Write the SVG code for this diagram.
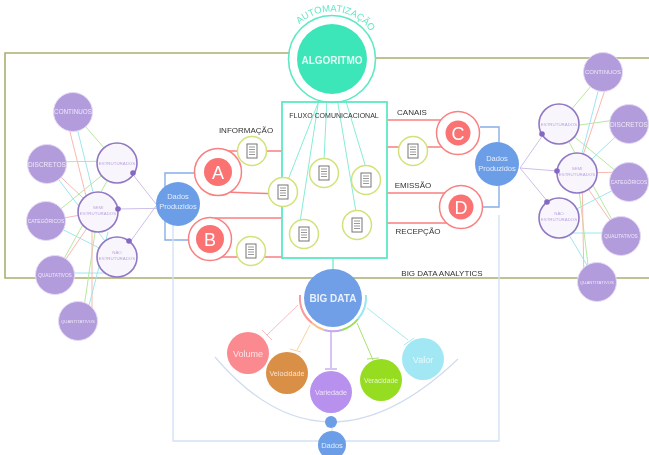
<svg xmlns="http://www.w3.org/2000/svg" xmlns:xlink="http://www.w3.org/1999/xlink" width="649" height="455" viewBox="0 0 649 455">
<style>
text{font-family:"Liberation Sans",Arial,sans-serif;text-anchor:middle}
.frame{fill:none;stroke:#a9b06e;stroke-width:1.6}
.g{stroke:#b5e8a0}.r{stroke:#f8b8b0}.c{stroke:#9ce6f0}
.lk line{stroke-width:1;fill:none}
.pl{stroke:#cdbfe8;stroke-width:1;fill:none}
.outer{fill:#b39cdc;stroke:#e4daf4;stroke-width:1}
.outer+text{fill:#efe9fa}
.inner{fill:#f8f6fc;stroke:#9078c4;stroke-width:1.6}
.inner~text{fill:#b9a5e0;font-size:4.4px}
.dot{fill:#8468c4}
.blue{fill:#6c9ee8}
.br{fill:none;stroke:#86aee8;stroke-width:1.4}
.lb{fill:none;stroke:#d4e2f6;stroke-width:1.4}
.red{fill:#fff;stroke:#f98080;stroke-width:1.5}
.redc{fill:#fa7272}
.redl{stroke:#f98080;stroke-width:1.5;fill:none}
.letter{fill:#fff;font-size:18px}
.teal{stroke:#86ecd4;stroke-width:1;fill:none}
.docr{fill:#fff;stroke:#d2e27a;stroke-width:1.5}
.lab{fill:#333;font-size:8px}
.w{fill:#fff}
.bd{stroke-width:1;fill:none}
.arc{stroke-width:2;fill:none}
</style>
<defs>
<filter id="soft" filterUnits="userSpaceOnUse" x="0" y="0" width="649" height="455"><feGaussianBlur stdDeviation="0.5"/></filter>
<g id="doc"><rect x="-5" y="-7" width="10" height="14" fill="#fff" stroke="#777" stroke-width="1"/><path d="M-3-4H3M-3-1.500H3M-3 1H3M-3 3.500H3" stroke="#999" stroke-width="1"/></g>
</defs>
<rect width="649" height="455" fill="#fff"/>
<g filter="url(#soft)">
<g id="frame">
<path class="frame" d="M296 53H5V278H649M376 58H649"/>
</g>
<g id="connectors">
<g class="lk">
<line class="g" x1="73" y1="112" x2="117" y2="163"/><line class="c" x1="73" y1="112" x2="98" y2="212"/><line class="r" x1="65" y1="112" x2="90" y2="212"/>
<line class="g" x1="47" y1="162" x2="117" y2="161"/><line class="r" x1="47" y1="164" x2="98" y2="212"/><line class="c" x1="47" y1="164" x2="117" y2="257"/>
<line class="g" x1="46" y1="221" x2="117" y2="163"/><line class="r" x1="46" y1="221" x2="98" y2="212"/><line class="c" x1="46" y1="221" x2="117" y2="257"/>
<line class="g" x1="55" y1="275" x2="117" y2="163"/><line class="r" x1="55" y1="275" x2="98" y2="212"/><line class="c" x1="55" y1="273" x2="117" y2="273"/>
<line class="g" x1="82" y1="321" x2="98" y2="212"/><line class="r" x1="92" y1="321" x2="92" y2="212"/><line class="c" x1="85" y1="321" x2="108" y2="232"/>
<line class="g" x1="603" y1="72" x2="559" y2="124"/><line class="c" x1="603" y1="72" x2="577" y2="173"/><line class="r" x1="611" y1="72" x2="577" y2="173"/>
<line class="g" x1="629" y1="118" x2="559" y2="128"/><line class="c" x1="629" y1="124" x2="577" y2="173"/><line class="g" x1="629" y1="182" x2="559" y2="124"/>
<line class="r" x1="629" y1="172" x2="577" y2="173"/><line class="c" x1="629" y1="182" x2="559" y2="218"/>
<line class="g" x1="621" y1="236" x2="559" y2="124"/><line class="r" x1="621" y1="236" x2="577" y2="173"/><line class="c" x1="621" y1="233" x2="559" y2="233"/>
<line class="g" x1="590" y1="282" x2="577" y2="173"/><line class="r" x1="584" y1="282" x2="582" y2="173"/><line class="c" x1="597" y1="282" x2="559" y2="218"/>
</g>
<path class="pl" d="M134 176L156 204M117 209L178 208M130 242L156 206"/>
<path class="pl" d="M520 168L545 132M520 168L557 171M520 168L548 202"/>
<path class="br" d="M196 173H165V240H192M480 127H499V207H478"/>
<path class="lb" d="M173 225V441H332M499 215V441H332"/>
<path class="redl" d="M225 151H282M225 192L282 194M215 218H282M218 257H282M387 120H450M387 147H448M387 193H445M387 223H452"/>
<path class="teal" d="M320 98L288 180M319 98L300 222M327 98L324 160M337 98L356 212M345 98L366 168"/>
<path stroke="#86ecd4" stroke-width="1.500" d="M333 258V270"/>
<g class="bd">
<path stroke="#f8bcc0" d="M298 305L267 335M262 330L272 340"/>
<path stroke="#f9d0a0" d="M310 325L297 350M290 349L301 352"/>
<path stroke="#d8c4f4" stroke-width="2" d="M331 332V368M325 369H337"/>
<path stroke="#a8e070" d="M357 323L373 360M367 359L379 358"/>
<path stroke="#a8e8f0" d="M367 308L408 340M404 345L414 338"/>
</g>
<path class="arc" stroke="#9ce6f0" d="M366 295A33 33 0 0 1 358 319"/>
<path class="arc" stroke="#98dd55" d="M358 319A33 33 0 0 1 342 330"/>
<path class="arc" stroke="#c4a8f0" d="M342 330A33 33 0 0 1 324 330"/>
<path class="arc" stroke="#f6c08a" d="M324 330A33 33 0 0 1 312 323"/>
<path class="arc" stroke="#fa9a9a" d="M312 323A33 33 0 0 1 300 295"/>
<path fill="none" stroke="#d0dcf0" stroke-width="1.200" d="M215 357Q270 422 331 422T458 359"/>
<path stroke="#d0dcf0" d="M332 428V432"/>
</g>
<g id="algoritmo">
<circle cx="332" cy="59" r="43.500" fill="#fff" stroke="#5ee8c4" stroke-width="1.600"/>
<circle cx="332" cy="59" r="35" fill="#3ee6b8"/>
<text class="w" x="332" y="64" font-size="10" font-weight="bold" opacity=".85">ALGORITMO</text>
<path id="ap" d="M295 29A47.500 47.500 0 0 1 374 37" fill="none"/>
<text fill="#62e8c8" font-size="9.500"><textPath xlink:href="#ap" href="#ap" startOffset="50%">AUTOMATIZAÇÃO</textPath></text>
</g>
<g id="fluxo">
<rect x="282" y="102" width="105" height="156" fill="none" stroke="#5ee8c4" stroke-width="1.800"/>
<text class="lab" x="334" y="117.500" style="font-size:7px">FLUXO COMUNICACIONAL</text>
</g>
<g id="docs">
<g transform="translate(252 151)"><circle class="docr" r="14.500"/><use href="#doc"/></g>
<g transform="translate(283 192)"><circle class="docr" r="14.500"/><use href="#doc"/></g>
<g transform="translate(324 173)"><circle class="docr" r="14.500"/><use href="#doc"/></g>
<g transform="translate(366 180)"><circle class="docr" r="14.500"/><use href="#doc"/></g>
<g transform="translate(304 234)"><circle class="docr" r="14.500"/><use href="#doc"/></g>
<g transform="translate(357 225)"><circle class="docr" r="14.500"/><use href="#doc"/></g>
<g transform="translate(251 251)"><circle class="docr" r="14.500"/><use href="#doc"/></g>
<g transform="translate(413 151)"><circle class="docr" r="14.500"/><use href="#doc"/></g>
</g>
<g id="node-a"><circle class="red" cx="218" cy="172" r="23.500"/><circle class="redc" cx="218" cy="172" r="14"/><text class="letter" x="218" y="178.500">A</text></g>
<g id="node-b"><circle class="red" cx="210" cy="239" r="21.500"/><circle class="redc" cx="210" cy="239" r="14"/><text class="letter" x="210" y="245.500">B</text></g>
<g id="node-c"><circle class="red" cx="458" cy="133" r="21.500"/><circle class="redc" cx="458" cy="133" r="12.500"/><text class="letter" x="458" y="139.500">C</text></g>
<g id="node-d"><circle class="red" cx="461" cy="207" r="21.500"/><circle class="redc" cx="461" cy="207" r="12.500"/><text class="letter" x="461" y="213.500">D</text></g>
<g id="labels">
<text class="lab" x="246" y="133">INFORMAÇÃO</text>
<text class="lab" x="412" y="115">CANAIS</text>
<text class="lab" x="413" y="188">EMISSÃO</text>
<text class="lab" x="418" y="234">RECEPÇÃO</text>
<text class="lab" x="442" y="276">BIG DATA ANALYTICS</text>
</g>
<g id="dados-l"><circle class="blue" cx="178" cy="204" r="22"/><text class="w" font-size="7.500" x="178" y="199" opacity=".8">Dados</text><text class="w" font-size="7.500" x="178" y="208.500" opacity=".8">Produzidos</text></g>
<g id="dados-r"><circle class="blue" cx="497" cy="164" r="22"/><text class="w" font-size="7.500" x="497" y="161" opacity=".8">Dados</text><text class="w" font-size="7.500" x="497" y="170.500" opacity=".8">Produzidos</text></g>
<g id="l-continuos"><circle class="outer" cx="73" cy="112" r="19.500"/><text x="73" y="114" font-size="6.300">CONTINUOS</text></g>
<g id="l-discretos"><circle class="outer" cx="47" cy="164" r="19.500"/><text x="47" y="166.500" font-size="6.500">DISCRETOS</text></g>
<g id="l-categoricos"><circle class="outer" cx="46" cy="221" r="19.500"/><text x="46" y="223" font-size="5">CATEGÓRICOS</text></g>
<g id="l-qualitativos"><circle class="outer" cx="55" cy="275" r="19.500"/><text x="55" y="277" font-size="4.700">QUALITATIVOS</text></g>
<g id="l-quantitativos"><circle class="outer" cx="78" cy="321" r="19.500"/><text x="78" y="323" font-size="4.300">QUANTITATIVOS</text></g>
<g id="l-estruturados"><circle class="inner" cx="117" cy="163" r="20"/><text x="117" y="165">ESTRUTURADOS</text><circle class="dot" cx="133" cy="173" r="2.800"/></g>
<g id="l-semi"><circle class="inner" cx="98" cy="212" r="20"/><text x="98" y="209">SEMI</text><text x="98" y="215">ESTRUTURADOS</text><circle class="dot" cx="118" cy="209" r="2.800"/></g>
<g id="l-nao"><circle class="inner" cx="117" cy="257" r="20"/><text x="117" y="254">NÃO</text><text x="117" y="260">ESTRUTURADOS</text><circle class="dot" cx="129" cy="241" r="2.800"/></g>
<g id="r-continuos"><circle class="outer" cx="603" cy="72" r="19.500"/><text x="603" y="74" font-size="6">CONTINUOS</text></g>
<g id="r-discretos"><circle class="outer" cx="629" cy="124" r="19.500"/><text x="629" y="126.500" font-size="6.500">DISCRETOS</text></g>
<g id="r-categoricos"><circle class="outer" cx="629" cy="182" r="19.500"/><text x="629" y="184" font-size="5">CATEGÓRICOS</text></g>
<g id="r-qualitativos"><circle class="outer" cx="621" cy="236" r="19.500"/><text x="621" y="238" font-size="4.700">QUALITATIVOS</text></g>
<g id="r-quantitativos"><circle class="outer" cx="597" cy="282" r="19.500"/><text x="597" y="284" font-size="4.300">QUANTITATIVOS</text></g>
<g id="r-estruturados"><circle class="inner" cx="559" cy="124" r="20"/><text x="559" y="126">ESTRUTURADOS</text><circle class="dot" cx="542" cy="134" r="2.800"/></g>
<g id="r-semi"><circle class="inner" cx="577" cy="173" r="20"/><text x="577" y="170">SEMI</text><text x="577" y="176">ESTRUTURADOS</text><circle class="dot" cx="557" cy="171" r="2.800"/></g>
<g id="r-nao"><circle class="inner" cx="559" cy="218" r="20"/><text x="559" y="215">NÃO</text><text x="559" y="221">ESTRUTURADOS</text><circle class="dot" cx="547" cy="202" r="2.800"/></g>
<g id="big-data"><circle cx="333" cy="298" r="29" fill="#6f9fe8"/><text class="w" x="333" y="302" font-size="10" font-weight="bold" opacity=".85">BIG DATA</text></g>
<g id="volume"><circle cx="248" cy="353" r="21" fill="#fb8a90"/><text class="w" x="248" y="356.500" font-size="9" opacity=".75">Volume</text></g>
<g id="velocidade"><circle cx="287" cy="373" r="21" fill="#d98f45"/><text class="w" x="287" y="376" font-size="7.200" opacity=".75">Velocidade</text></g>
<g id="variedade"><circle cx="331" cy="392" r="21" fill="#b890ee"/><text class="w" x="331" y="395" font-size="7.200" opacity=".75">Variedade</text></g>
<g id="veracidade"><circle cx="381" cy="380" r="21" fill="#96dd20"/><text class="w" x="381" y="383" font-size="6.800" opacity=".75">Veracidade</text></g>
<g id="valor"><circle cx="423" cy="359" r="21" fill="#a2e8f4"/><text class="w" x="423" y="362.500" font-size="9" opacity=".75">Valor</text></g>
<g id="dot-dados"><circle cx="331" cy="422" r="6" fill="#6c9ee8"/></g>
<g id="dados-b"><circle cx="332" cy="445" r="14" fill="#6c9ee8"/><text class="w" x="332" y="448" font-size="7.500" opacity=".8">Dados</text></g>
</g>
</svg>
